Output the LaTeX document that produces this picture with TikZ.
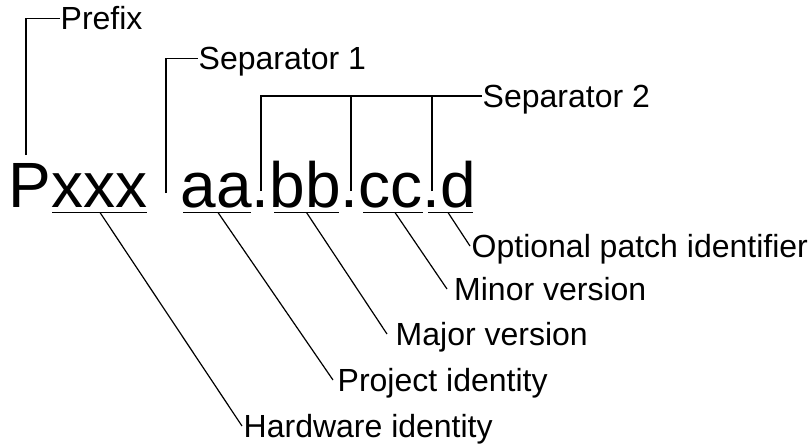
\documentclass[tikz,border=0pt]{standalone}
\usepackage{fontspec}
\setmainfont{Liberation Sans}
\begin{document}
\begin{tikzpicture}[x=1pt,y=-1pt,
  big/.style={font=\fontsize{64}{72}\selectfont, inner sep=0pt, anchor=base west},
  lbl/.style={font=\fontsize{32}{38}\selectfont, inner ysep=0pt, text height=22.9pt, text depth=0pt, anchor=west},
  ln/.style={line width=1.2pt},
  ul/.style={line width=1.6pt}]
\useasboundingbox (0,0) rectangle (811,445);
% main string
\node[big] (P) at (8.8,207) {P};
\node[big] (xxx) at (51.5,207) {xxx};
\node[big] (aa) at (180.4,207) {aa};
\node[big] (dot1) at (251.6,207) {.};
\node[big] (bb) at (269.4,207) {bb};
\node[big] (dot2) at (340.6,207) {.};
\node[big] (cc) at (358.4,207) {cc};
\node[big] (dot3) at (422.4,207) {.};
\node[big] (dd) at (440.2,207) {d};
% underlines
\draw[ul] (52,212.5) -- (147,212.5);
\draw[ul] (183,212.5) -- (251,212.5);
\draw[ul] (274,212.5) -- (339,212.5);
\draw[ul] (363,212.5) -- (423,212.5);
\draw[ul] (428,212.5) -- (473,212.5);
\coordinate (uxxx) at (100,212.5);
\coordinate (uaa) at (218,212.5);
\coordinate (ubb) at (306.5,212.5);
\coordinate (ucc) at (395,212.5);
\coordinate (udd) at (448,212.5);
% labels
\node[lbl, inner xsep=0.5pt] (prefix) at (60,18.3) {Prefix};
\node[lbl, inner xsep=0.5pt] (sep1) at (198,58.5) {Separator 1};
\node[lbl, inner xsep=0.5pt] (sep2) at (482,96) {Separator 2};
\node[lbl, inner xsep=1.5pt] (opt) at (470,246) {Optional patch identifier};
\node[lbl, inner xsep=7pt] (minor) at (447,289) {Minor version};
\node[lbl, inner xsep=8.5pt] (major) at (387,334) {Major version};
\node[lbl, inner xsep=4.5pt] (proj) at (333,380) {Project identity};
\node[lbl, inner xsep=1.5pt] (hw) at (242,426) {Hardware identity};
% separator callouts
\coordinate (pfxfoot) at (26,155);
\coordinate (s1foot) at (166,193);
\coordinate (s2a) at (261,191);
\coordinate (s2b) at (351,191);
\coordinate (s2c) at (432,191);
\draw[ln] (pfxfoot) |- (prefix.west);
\draw[ln] (s1foot) |- (sep1.west);
\draw[ln] (s2a) |- (sep2.west);
\draw[ln] (s2b) -- (s2b |- sep2.west);
\draw[ln] (s2c) -- (s2c |- sep2.west);
% diagonal callouts
\draw[ln] (uxxx) -- (hw.west);
\draw[ln] (uaa) -- (proj.west);
\draw[ln] (ubb) -- (major.west);
\draw[ln] (ucc) -- (minor.west);
\draw[ln] (udd) -- (opt.west);
\end{tikzpicture}
\end{document}
